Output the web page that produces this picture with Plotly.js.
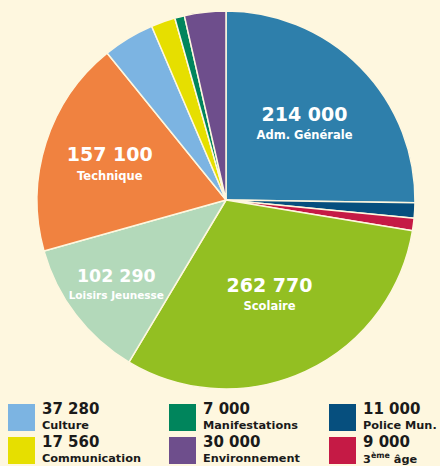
<!DOCTYPE html>
<html><head><meta charset="utf-8">
<script src="https://cdn.plot.ly/plotly-3.0.1.min.js"></script>
<style>body{margin:0;background:#FEF7DF}</style>
</head><body><div id="chart" style="width:440px;height:466px"></div>
<script>
const labels = ["Adm. Générale","Police Mun.","3<sup>ème</sup> âge","Scolaire","Loisirs Jeunesse","Technique","Culture","Communication","Manifestations","Environnement"];
const values = [214000, 11000, 9000, 262770, 102290, 157100, 37280, 17560, 7000, 30000];
const colors = ["#2E7FAB","#064F7E","#C51A45","#93BF22","#B3D9BA","#F08240","#7CB4E2","#E6DF00","#00855C","#6E4E8C"];
const showInside = [true,false,false,true,true,true,false,false,false,false];
const legendOrder = [6,7,8,9,1,2];

const bg = "#FEF7DF";
const FONT = "DejaVu Sans, sans-serif";
const L = 37, T = 11, S = 378;
const px = x => (x - L) / S;
const py = y => (T + S - y) / S;
const fmt = v => String(v).replace(/\B(?=(\d{3})+(?!\d))/g, " ");

const texts = values.map((v,i) => showInside[i] ?
  "<span style='font-size:19px'>" + fmt(v) + "</span><br><span style='font-size:11.5px'>" + labels[i] + "</span>" : "");

const trace = {
  type: "pie", values: values, labels: labels, text: texts,
  textinfo: "text", textposition: "inside", insidetextorientation: "horizontal",
  sort: false, direction: "clockwise", rotation: 0,
  marker: {colors: colors, line: {color: bg, width: 1.5}},
  textfont: {family: FONT, color: "#ffffff", size: 14, weight: 700},
  hoverinfo: "none", showlegend: false
};

const shapes = [], annotations = [];
const colX = [8, 169, 329];
legendOrder.forEach((idx, k) => {
  const col = Math.floor(k / 2), row = k % 2;
  const x0 = colX[col], y0 = 404 + row * 33;
  shapes.push({type: "rect", xref: "paper", yref: "paper",
    x0: px(x0), x1: px(x0 + 27), y0: py(y0), y1: py(y0 + 27),
    fillcolor: colors[idx], line: {width: 0}});
  annotations.push({xref: "paper", yref: "paper", x: px(x0 + 32), y: py(y0 + 5),
    xanchor: "left", yanchor: "middle", showarrow: false, align: "left",
    text: "<b>" + fmt(values[idx]) + "</b>",
    font: {family: FONT, size: 15, color: "#1a1a1a"}});
  annotations.push({xref: "paper", yref: "paper", x: px(x0 + 32), y: py(y0 + 21),
    xanchor: "left", yanchor: "middle", showarrow: false, align: "left",
    text: "<b>" + labels[idx] + "</b>",
    font: {family: FONT, size: 11.3, color: "#1a1a1a"}});
});

Plotly.newPlot("chart", [trace], {
  width: 440, height: 466,
  margin: {l: L, r: 440 - L - S, t: T, b: 466 - T - S},
  paper_bgcolor: bg, plot_bgcolor: bg,
  shapes: shapes, annotations: annotations
}, {displayModeBar: false, staticPlot: true});
</script></body></html>
